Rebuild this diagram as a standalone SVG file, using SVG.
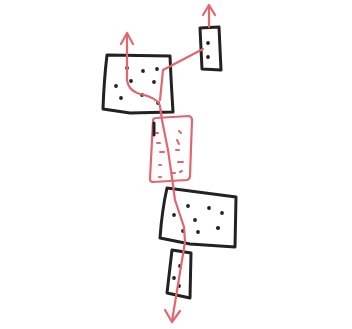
<svg xmlns="http://www.w3.org/2000/svg" width="352" height="329" viewBox="0 0 352 329">
<style>
.box{fill:none;stroke:#222;stroke-width:3;stroke-linejoin:round;stroke-linecap:round}
.red{fill:none;stroke:#e26670;stroke-width:2.2;stroke-linejoin:round;stroke-linecap:round}
.dot{fill:#222}
.rdash{stroke:#e26670;stroke-width:2;stroke-linecap:round}
</style>
<rect width="352" height="329" fill="#fff"/>
<g id="box1">
<path class="box" d="M107,55 L170,56 Q171,80 173,112 L130,113 L103,109 Q104,80 107,55 Z"/>
<circle class="dot" cx="127" cy="68" r="1.9"/><circle class="dot" cx="143" cy="71" r="1.9"/><circle class="dot" cx="157" cy="69" r="1.9"/>
<circle class="dot" cx="131" cy="81" r="1.9"/><circle class="dot" cx="154" cy="82" r="1.9"/><circle class="dot" cx="116" cy="86" r="1.9"/>
<circle class="dot" cx="142" cy="95" r="1.9"/><circle class="dot" cx="121" cy="98" r="1.9"/><circle class="dot" cx="158" cy="103" r="1.9"/>
</g>
<g id="box2">
<path class="box" d="M200,28 L219,27 L221,70 L202,69 Z"/>
<circle class="dot" cx="208" cy="43" r="1.9"/><circle class="dot" cx="208" cy="57" r="1.9"/>
</g>
<g id="box3">
<path class="red" d="M156,118 L189,116 Q192,117 192,120 L190,176 Q190,179 187,180 L153,182 Q150,182 150,179 L153,121 Q153,118 156,118 Z"/>
<line class="rdash" x1="156" y1="133" x2="158" y2="133"/><line class="rdash" x1="179" y1="131" x2="181" y2="133"/>
<line class="rdash" x1="157" y1="143" x2="160" y2="143"/><line class="rdash" x1="177" y1="140" x2="179" y2="144"/>
<line class="rdash" x1="160" y1="152" x2="164" y2="152"/><line class="rdash" x1="176" y1="150" x2="179" y2="150"/>
<line class="rdash" x1="178" y1="162" x2="183" y2="162"/><line class="rdash" x1="159" y1="165" x2="161" y2="165"/>
<line class="rdash" x1="172" y1="173" x2="175" y2="173"/><line class="rdash" x1="159" y1="177" x2="161" y2="177"/>
<line class="rdash" x1="180" y1="172" x2="182" y2="171"/>
<path class="box" d="M154,123 L154,135" stroke-width="2"/>
</g>
<g id="box4">
<path class="box" d="M167,188 L236,197 L235,247 L190,244 L160,238 Q162,210 167,188 Z"/>
<circle class="dot" cx="188" cy="206" r="1.9"/><circle class="dot" cx="209" cy="208" r="1.9"/><circle class="dot" cx="222" cy="213" r="1.9"/>
<circle class="dot" cx="174" cy="215" r="1.9"/><circle class="dot" cx="195" cy="220" r="1.9"/><circle class="dot" cx="218" cy="228" r="2.1"/>
<circle class="dot" cx="183" cy="231" r="1.9"/><circle class="dot" cx="198" cy="232" r="1.9"/>
</g>
<g id="box5">
<path class="box" d="M172,250 L191,253 L190,298 L167,293 Z"/>
<circle class="dot" cx="180" cy="266" r="1.9"/><circle class="dot" cx="174" cy="278" r="1.9"/><circle class="dot" cx="179" cy="286" r="1.9"/>
</g>
<g id="connectors">
<path class="red" d="M127,34 L127,78 Q127,90 140,94 Q158,98 160,106 L162,120 L168,150 L172,178 L175,200 L184,227 L185,242 L172,321"/>
<path class="red" d="M127,33 L121,44 M127,33 L133,44"/>
<path class="red" d="M203,49 L163,70 L160,100"/>
<path class="red" d="M209,27 L209,6 M209,5 L203,15 M209,5 L215,15"/>
<path class="red" d="M172,322 L165,310 M172,322 L180,311"/>
</g>
</svg>
